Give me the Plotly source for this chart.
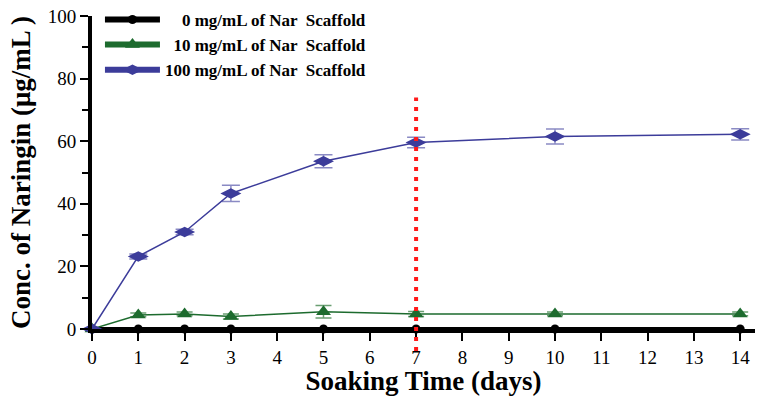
import plotly.graph_objects as go

days = [0, 1, 2, 3, 5, 7, 10, 14]
conc_0 = [0, 0, 0, 0, 0, 0, 0, 0]
conc_10 = [0, 4.5, 4.8, 4.0, 5.5, 4.8, 4.8, 4.8]
err_10 = [0, 0.6, 0.6, 0.8, 2.0, 0.8, 0.6, 0.6]
conc_100 = [0, 23.2, 31.0, 43.3, 53.6, 59.6, 61.5, 62.2]
err_100 = [0, 0.8, 0.9, 2.6, 2.1, 1.7, 2.4, 1.8]
x_ticks = list(range(0, 15))
NB = "\u00a0"
names = [NB * 4 + "0 mg/mL of Nar  Scaffold", NB * 2 + "10 mg/mL of Nar  Scaffold", "100 mg/mL of Nar  Scaffold"]
marker_line = 7

BLACK = "#000000"
GREEN = "#1d6b2e"
BLUE = "#3c3c9a"
SERIF = "Liberation Serif, Times New Roman, serif"

fig = go.Figure()

fig.add_trace(go.Scatter(x=days, y=conc_0, mode="lines+markers", showlegend=False,
                         line=dict(color=BLACK, width=4), marker=dict(symbol="circle", size=9, color=BLACK),
                         cliponaxis=False))
fig.add_trace(go.Scatter(x=days, y=conc_10, mode="lines+markers", showlegend=False,
                         line=dict(color=GREEN, width=1.5),
                         marker=dict(symbol="triangle-up", size=13, color=GREEN),
                         error_y=dict(type="data", array=err_10, color="#6a9e72", thickness=1.5, width=8),
                         cliponaxis=False))
fig.add_trace(go.Scatter(x=days, y=conc_100, mode="lines+markers", showlegend=False,
                         line=dict(color=BLUE, width=1.5),
                         marker=dict(symbol="diamond-wide", size=15, color=BLUE),
                         error_y=dict(type="data", array=err_100, color="#8a8ac4", thickness=1.5, width=9),
                         cliponaxis=False))

for nm, col, sym, sz in [(names[0], BLACK, "circle", 9), (names[1], GREEN, "triangle-up", 13),
                         (names[2], BLUE, "diamond-wide", 15)]:
    fig.add_trace(go.Scatter(x=[None], y=[None], mode="lines+markers", name=nm,
                             line=dict(color=col, width=6), marker=dict(symbol=sym, size=sz, color=col)))

fig.add_shape(type="line", xref="x", yref="paper", x0=marker_line, x1=marker_line, y0=-0.07, y1=0.74,
              line=dict(color="#ff1a1a", width=4, dash="4px,6px"))

fig.update_layout(
    width=757, height=396,
    margin=dict(l=92, r=2, t=16, b=67),
    plot_bgcolor="white", paper_bgcolor="white",
    font=dict(family=SERIF, color="black"),
    legend=dict(x=0.012, y=1.045, xanchor="left", yanchor="top", bgcolor="rgba(0,0,0,0)",
                font=dict(family=SERIF, size=17, color="black", weight="bold"),
                itemwidth=55, tracegroupgap=0),
    xaxis=dict(range=[0, 14.32], tickvals=x_ticks, ticktext=[str(v) for v in x_ticks],
               showgrid=False, zeroline=False, showline=True, linecolor="black", linewidth=4,
               ticks="outside", ticklen=8, tickwidth=2, tickcolor="black", automargin=False,
               tickfont=dict(family=SERIF, size=19, color="black"),
               title=dict(text="Soaking Time (days)", standoff=4,
                          font=dict(family=SERIF, size=27, color="black", weight="bold"))),
    yaxis=dict(range=[0, 100], tickvals=[0, 20, 40, 60, 80, 100],
               showgrid=False, zeroline=False, showline=True, linecolor="black", linewidth=4,
               ticks="outside", ticklen=8, tickwidth=2, tickcolor="black", automargin=False,
               minor=dict(dtick=10, ticks="outside", ticklen=6, tickwidth=2, tickcolor="black"),
               tickfont=dict(family=SERIF, size=19, color="black"),
               title=dict(text="Conc. of Naringin (μg/mL )", standoff=10,
                          font=dict(family=SERIF, size=27, color="black", weight="bold"))),
)

fig.write_html("out.html", config={"displayModeBar": False},
               post_script="document.body.style.margin='0';")
